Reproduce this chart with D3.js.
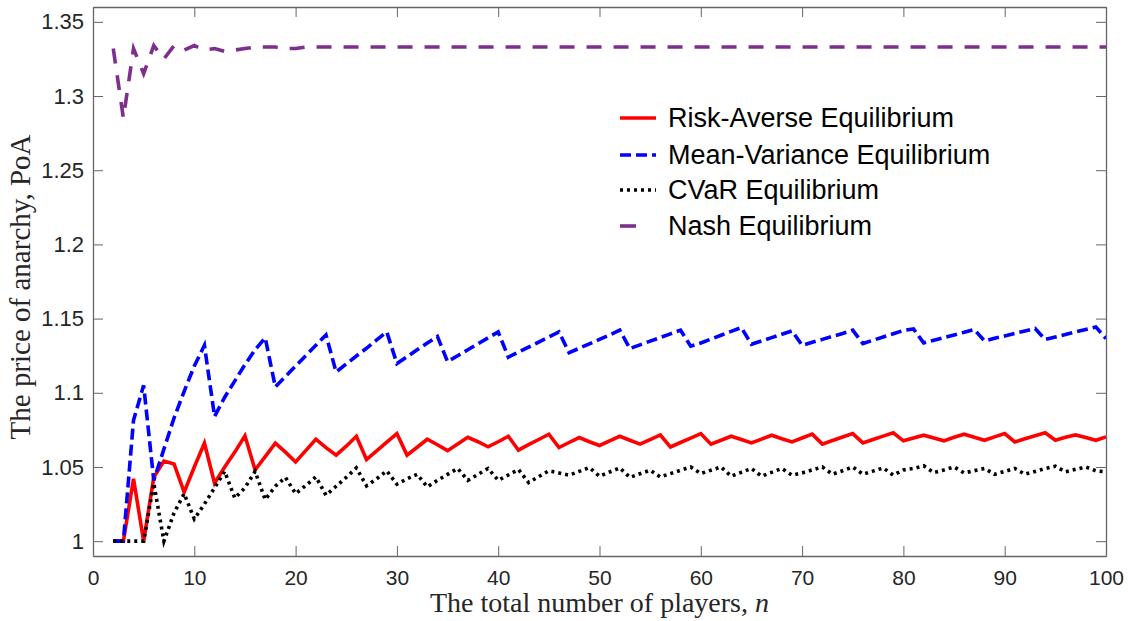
<!DOCTYPE html>
<html><head><meta charset="utf-8">
<script src="https://cdn.jsdelivr.net/npm/d3@7"></script>
<style>body{margin:0;background:#fff}svg{display:block}</style>
</head><body>
<svg id="c" width="1128" height="621"></svg>
<script>
const nPlayers = [2,3,4,5,6,7,8,9,10,11,12,13,14,15,16,17,18,19,20,21,22,23,24,25,26,27,28,29,30,31,32,33,34,35,36,37,38,39,40,41,42,43,44,45,46,47,48,49,50,51,52,53,54,55,56,57,58,59,60,61,62,63,64,65,66,67,68,69,70,71,72,73,74,75,76,77,78,79,80,81,82,83,84,85,86,87,88,89,90,91,92,93,94,95,96,97,98,99,100];

const riskAverse = [1.0,1.0,1.042,1.0,1.043,1.054,1.052,1.033,1.05,1.066,1.039,1.05,1.06,1.071,1.048,1.057,1.066,1.06,1.0534,1.061,1.0687,1.063,1.058,1.064,1.0707,1.055,1.0608,1.0667,1.0725,1.058,1.0633,1.0687,1.065,1.061,1.0655,1.07,1.067,1.0636,1.067,1.0707,1.0613,1.065,1.0685,1.0721,1.0631,1.0665,1.0698,1.067,1.0645,1.0676,1.0707,1.068,1.0654,1.0685,1.0716,1.0635,1.0665,1.0695,1.0725,1.0654,1.068,1.0707,1.0685,1.0662,1.0688,1.0714,1.069,1.0669,1.0695,1.0721,1.0654,1.0678,1.0702,1.0725,1.0662,1.0685,1.0708,1.073,1.0676,1.0695,1.0714,1.0695,1.0676,1.07,1.0721,1.07,1.068,1.0703,1.0725,1.0669,1.069,1.071,1.073,1.068,1.07,1.0716,1.0698,1.068,1.0703];

const meanVariance = [1.0,1.0,1.0815,1.105,1.041,1.062,1.083,1.101,1.118,1.132,1.084,1.097,1.108,1.119,1.129,1.137,1.104,1.111,1.118,1.125,1.132,1.139,1.114,1.1194,1.1248,1.13,1.1356,1.141,1.1197,1.1243,1.129,1.1335,1.138,1.121,1.125,1.129,1.133,1.137,1.141,1.124,1.1274,1.1308,1.1342,1.1376,1.141,1.127,1.13,1.133,1.136,1.139,1.1422,1.1298,1.1323,1.1348,1.1372,1.1397,1.1422,1.1314,1.1336,1.1362,1.1388,1.1414,1.144,1.1327,1.1349,1.1372,1.1394,1.1417,1.132,1.134,1.136,1.138,1.14,1.1422,1.1332,1.1354,1.1376,1.1398,1.142,1.143,1.1336,1.1354,1.1372,1.139,1.1408,1.1426,1.135,1.1367,1.1383,1.14,1.1416,1.1433,1.1359,1.1376,1.1393,1.141,1.1427,1.1444,1.1365];

const cvar = [1.0,1.0,1.0,1.0,1.039,1.0,1.019,1.032,1.015,1.025,1.036,1.047,1.029,1.036,1.047,1.028,1.037,1.043,1.032,1.0375,1.0433,1.031,1.037,1.043,1.0494,1.0373,1.042,1.0474,1.0384,1.042,1.0451,1.0366,1.041,1.045,1.049,1.041,1.045,1.049,1.041,1.0446,1.0483,1.0395,1.0435,1.0474,1.046,1.0445,1.047,1.0496,1.0438,1.0466,1.0494,1.043,1.0454,1.0478,1.0433,1.0455,1.0478,1.05,1.0456,1.0478,1.05,1.0438,1.0464,1.049,1.0438,1.0464,1.049,1.0445,1.046,1.048,1.05,1.0451,1.0475,1.05,1.0451,1.0472,1.0494,1.0445,1.048,1.049,1.0508,1.0462,1.048,1.05,1.046,1.0475,1.049,1.0451,1.047,1.049,1.0451,1.047,1.049,1.0505,1.0467,1.0484,1.05,1.0474,1.0467];

const nash = [1.332,1.285,1.332,1.315,1.334,1.325,1.334,1.331,1.334,1.331,1.332,1.33,1.331,1.332,1.333,1.333,1.333,1.332,1.332,1.333,1.333,1.333,1.333,1.333,1.333,1.333,1.333,1.333,1.333,1.333,1.333,1.333,1.333,1.333,1.333,1.333,1.333,1.333,1.333,1.333,1.333,1.333,1.333,1.333,1.333,1.333,1.333,1.333,1.333,1.333,1.333,1.333,1.333,1.333,1.333,1.333,1.333,1.333,1.333,1.333,1.333,1.333,1.333,1.333,1.333,1.333,1.333,1.333,1.333,1.333,1.333,1.333,1.333,1.333,1.333,1.333,1.333,1.333,1.333,1.333,1.333,1.333,1.333,1.333,1.333,1.333,1.333,1.333,1.333,1.333,1.333,1.333,1.333,1.333,1.333,1.333,1.333,1.333,1.333];

const xTicks = [0,10,20,30,40,50,60,70,80,90,100];
const yTicks = [1,1.05,1.1,1.15,1.2,1.25,1.3,1.35];
const yTickLabels = ["1","1.05","1.1","1.15","1.2","1.25","1.3","1.35"];
const seriesNames = ["Risk-Averse Equilibrium","Mean-Variance Equilibrium","CVaR Equilibrium","Nash Equilibrium"];

const svg = d3.select("#c");
const L = 93, R = 1106, T = 7, B = 556;
const x = d3.scaleLinear().domain([0,100]).range([L,R]);
const y = d3.scaleLinear().domain([0.99,1.36]).range([B,T]);
const axisColor = "#666";

const styles = [
  {data: riskAverse, color: "#ff0000", dash: null, w: 3.6},
  {data: meanVariance, color: "#0000ff", dash: "11,5", w: 3.6},
  {data: cvar, color: "#000000", dash: "3,4", w: 3.6},
  {data: nash, color: "#7e2f8e", dash: "15,12", w: 3.6}
];

svg.append("clipPath").attr("id","pc").append("rect")
  .attr("x",L).attr("y",T).attr("width",R-L).attr("height",B-T);

const line = d3.line().x((d,i)=>x(nPlayers[i])).y(d=>y(d));
const g = svg.append("g").attr("clip-path","url(#pc)");
styles.forEach(s=>{
  g.append("path").attr("d", line(s.data)).attr("fill","none")
    .attr("stroke", s.color).attr("stroke-width", s.w)
    .attr("stroke-dasharray", s.dash).attr("stroke-linejoin","miter");
});

// axes
const tickLen = 10;
const xb = svg.append("g").attr("transform",`translate(0,${B})`)
  .call(d3.axisBottom(x).tickValues(xTicks).tickSizeInner(-tickLen).tickSizeOuter(0).tickPadding(14));
const xt = svg.append("g").attr("transform",`translate(0,${T})`)
  .call(d3.axisTop(x).tickValues(xTicks).tickSizeInner(-tickLen).tickSizeOuter(0).tickFormat(""));
const yl = svg.append("g").attr("transform",`translate(${L},0)`)
  .call(d3.axisLeft(y).tickValues(yTicks).tickSizeInner(-tickLen).tickSizeOuter(0).tickPadding(9)
    .tickFormat((d,i)=>yTickLabels[i]));
const yr = svg.append("g").attr("transform",`translate(${R},0)`)
  .call(d3.axisRight(y).tickValues(yTicks).tickSizeInner(-tickLen).tickSizeOuter(0).tickFormat(""));
[xb,xt,yl,yr].forEach(a=>{
  a.selectAll(".domain").attr("stroke",axisColor).attr("stroke-width",1.3);
  a.selectAll(".tick line").attr("stroke",axisColor).attr("stroke-width",1);
  a.selectAll("text").attr("fill","#262626").style("font-family","'Liberation Sans', Arial, sans-serif").style("font-size","22px");
});
xb.selectAll(".tick text").style("font-size","21px");

// axis titles
svg.append("text").attr("x",(L+R)/2).attr("y",612).attr("text-anchor","middle")
  .style("font-family","'Liberation Serif','DejaVu Serif',serif").style("font-size","28px").attr("fill","#262626")
  .html('The total number of players, <tspan font-style="italic">n</tspan>');
svg.append("text").attr("transform","translate(30,287) rotate(-90)").attr("text-anchor","middle")
  .style("font-family","'Liberation Serif','DejaVu Serif',serif").style("font-size","29px").attr("fill","#262626")
  .text("The price of anarchy, PoA");

// legend
const lg = svg.append("g");
const rows = [118,155,190,226];
styles.forEach((s,i)=>{
  lg.append("line").attr("x1",620).attr("x2",656).attr("y1",rows[i]).attr("y2",rows[i])
    .attr("stroke",s.color).attr("stroke-width",s.w).attr("stroke-dasharray", i===3 ? "16,25" : s.dash);
  lg.append("text").attr("x",668).attr("y",rows[i]+9).text(seriesNames[i])
    .style("font-family","'Liberation Sans', Arial, sans-serif").style("font-size","27px").attr("fill","#000");
});
</script>
</body></html>
